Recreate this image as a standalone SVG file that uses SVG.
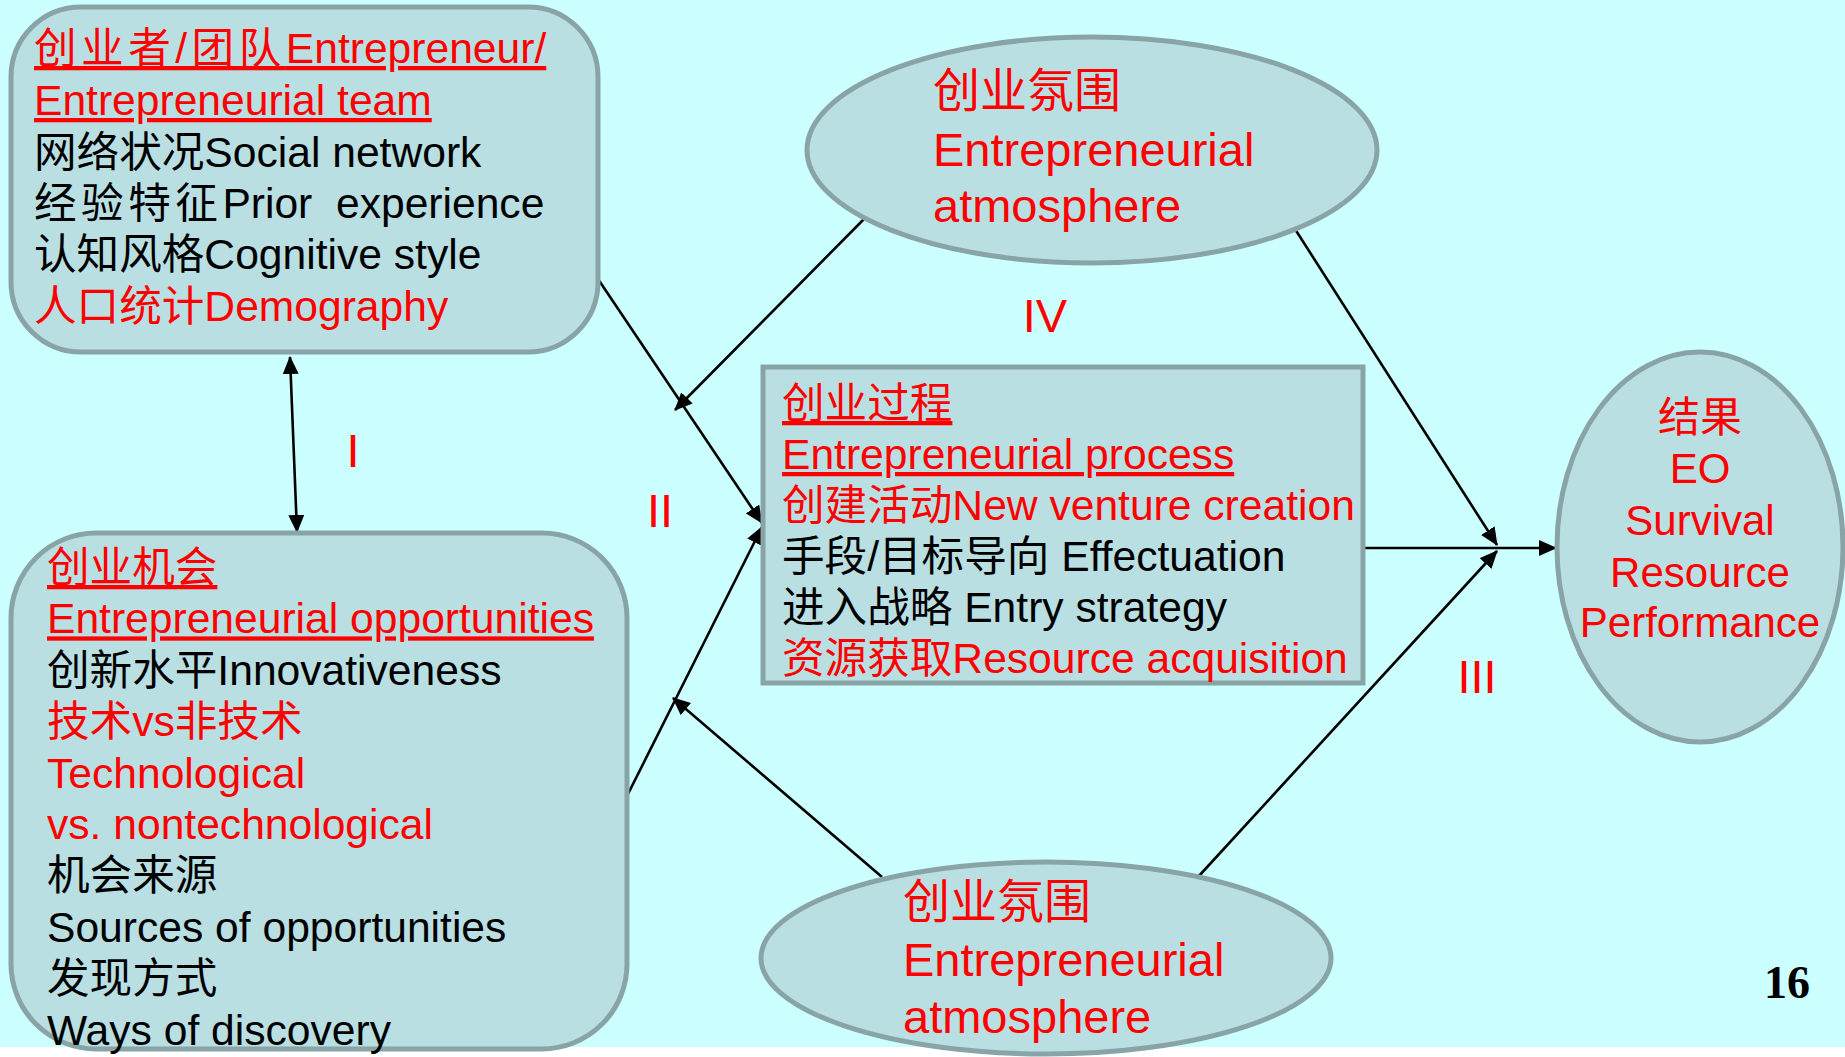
<svg xmlns="http://www.w3.org/2000/svg" width="1845" height="1057" viewBox="0 0 1845 1057">
<style>
.node{fill:#B9DFE2;stroke:#89A4A6;stroke-width:5}
text{font-family:"Liberation Sans","Noto Sans CJK SC",sans-serif}
.t{font-size:42.6px}
.e{font-size:47px}
.r{font-size:42px}
.red{fill:#FF0000}
.blk{fill:#000000}
.u{text-decoration:underline}
.lbl{font-size:47px;fill:#FF0000;text-anchor:middle}
.c{stroke:#000;stroke-width:2.6;fill:none}
.pre{white-space:pre}
.num{font-family:"Liberation Serif",serif;font-weight:bold;font-size:46px;fill:#000;text-anchor:middle}
</style>
<defs>
<marker id="ah" markerUnits="userSpaceOnUse" markerWidth="18" markerHeight="16" refX="17" refY="8" orient="auto-start-reverse">
<path d="M0,0 L18,8 L0,16 Z" fill="#000"/>
</marker>
</defs>
<rect x="0" y="0" width="1845" height="1057" fill="#FFFFFF"/>
<rect x="0" y="0" width="1845" height="1047" fill="#CCFFFF"/>

<g id="connectors">
<path class="c" d="M290,357 L297,532" marker-start="url(#ah)" marker-end="url(#ah)"/>
<path class="c" d="M598,279 L762,523" marker-end="url(#ah)"/>
<path class="c" d="M866,217 L675,410" marker-end="url(#ah)"/>
<path class="c" d="M628,794 L762,527" marker-end="url(#ah)"/>
<path class="c" d="M882,877 L673,698" marker-end="url(#ah)"/>
<path class="c" d="M1363,548 L1556,548" marker-end="url(#ah)"/>
<path class="c" d="M1295,229 L1497,545" marker-end="url(#ah)"/>
<path class="c" d="M1198,877 L1497,551" marker-end="url(#ah)"/>
</g>

<g id="entrepreneur">
<rect class="node" x="11" y="7" width="587" height="345" rx="70" ry="70"/>
<text class="t red u" x="34" y="63"><tspan letter-spacing="4.5">创业者/团队</tspan>Entrepreneur/</text>
<text class="t red u" x="34" y="115">Entrepreneurial team</text>
<text class="t blk" x="34" y="167">网络状况Social network</text>
<text class="t blk pre" x="34" y="218"><tspan letter-spacing="4.5">经验特征</tspan>Prior  experience</text>
<text class="t blk" x="34" y="269">认知风格Cognitive style</text>
<text class="t red" x="34" y="321">人口统计Demography</text>
</g>

<g id="opportunities">
<rect class="node" x="11" y="533" width="616" height="516" rx="85" ry="85"/>
<text class="t red u" x="47" y="582">创业机会</text>
<text class="t red u" x="47" y="633.4">Entrepreneurial opportunities</text>
<text class="t blk" x="47" y="684.8">创新水平Innovativeness</text>
<text class="t red" x="47" y="736.2">技术vs非技术</text>
<text class="t red" x="47" y="787.6">Technological</text>
<text class="t red" x="47" y="839">vs. nontechnological</text>
<text class="t blk" x="47" y="890.4">机会来源</text>
<text class="t blk" x="47" y="941.8">Sources of opportunities</text>
<text class="t blk" x="47" y="993.2">发现方式</text>
<text class="t blk" x="47" y="1044.6">Ways of discovery</text>
</g>

<g id="process">
<rect class="node" x="763" y="367" width="600" height="316"/>
<text class="t red u" x="782" y="418">创业过程</text>
<text class="t red u" x="782" y="469">Entrepreneurial process</text>
<text class="t red" x="782" y="520">创建活动New venture creation</text>
<text class="t blk" x="782" y="571">手段/目标导向 Effectuation</text>
<text class="t blk" x="782" y="622">进入战略 Entry strategy</text>
<text class="t red" x="782" y="673">资源获取Resource acquisition</text>
</g>

<g id="atmosphere-top">
<ellipse class="node" cx="1092" cy="150" rx="285" ry="113"/>
<text class="e red" x="933" y="107">创业氛围</text>
<text class="e red" x="933" y="166">Entrepreneurial</text>
<text class="e red" x="933" y="222">atmosphere</text>
</g>

<g id="atmosphere-bottom">
<ellipse class="node" cx="1046" cy="958" rx="285" ry="96"/>
<text class="e red" x="903" y="918">创业氛围</text>
<text class="e red" x="903" y="976">Entrepreneurial</text>
<text class="e red" x="903" y="1033">atmosphere</text>
</g>

<g id="outcome">
<ellipse class="node" cx="1700" cy="547" rx="143" ry="195"/>
<text class="r red" x="1700" y="432" text-anchor="middle">结果</text>
<text class="r red" x="1700" y="483" text-anchor="middle">EO</text>
<text class="r red" x="1700" y="535" text-anchor="middle">Survival</text>
<text class="r red" x="1700" y="587" text-anchor="middle">Resource</text>
<text class="r red" x="1700" y="637" text-anchor="middle">Performance</text>
</g>

<g id="labels">
<text class="lbl" x="353" y="467">I</text>
<text class="lbl" x="660" y="527">II</text>
<text class="lbl" x="1045" y="332">IV</text>
<text class="lbl" x="1477" y="693">III</text>
</g>

<text class="num" x="1787" y="998">16</text>
</svg>
